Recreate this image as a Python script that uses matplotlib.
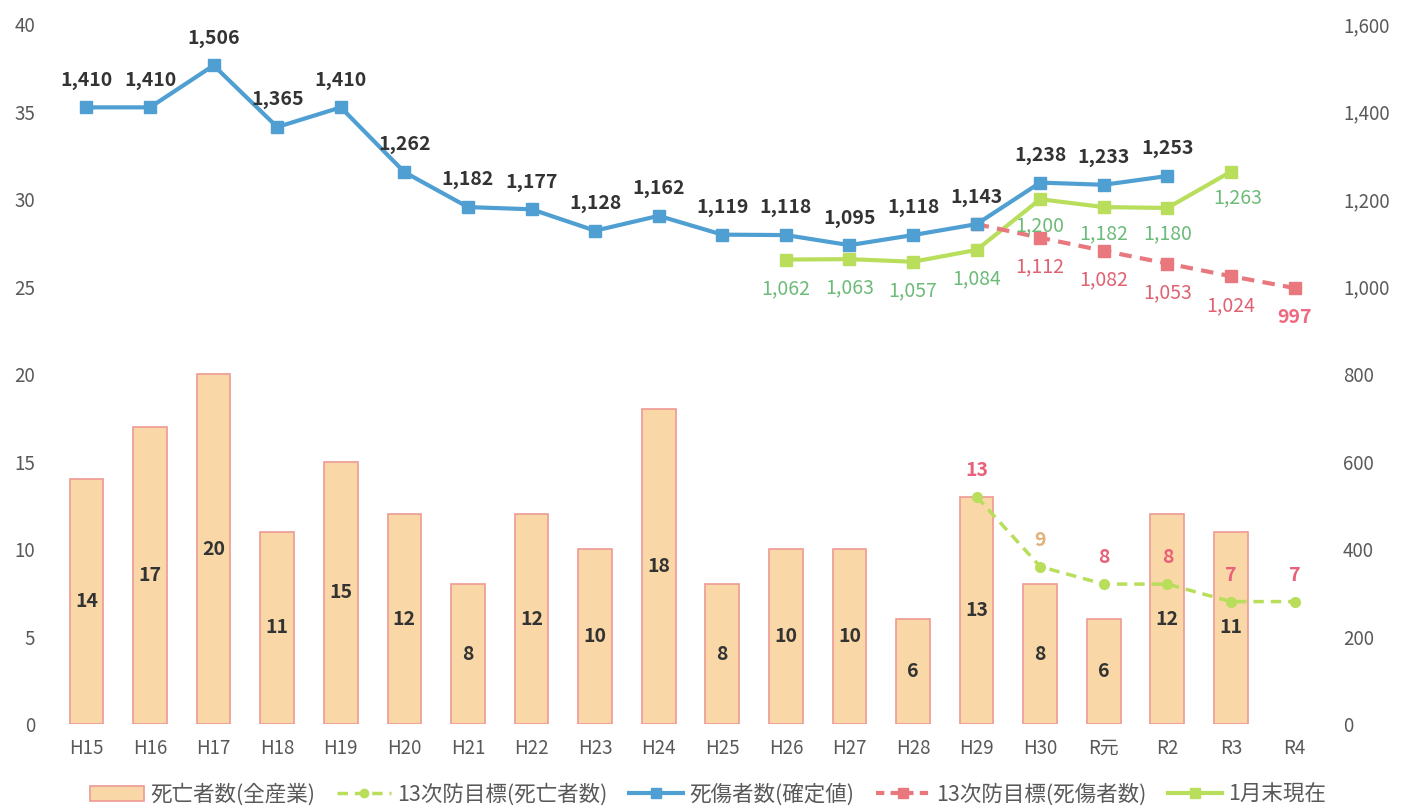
import matplotlib
matplotlib.use("Agg")
import matplotlib.pyplot as plt
from matplotlib.lines import Line2D
from matplotlib.patches import Patch

plt.rcParams['font.family'] = ['Noto Sans CJK JP', 'DejaVu Sans']

categories = ["H15", "H16", "H17", "H18", "H19", "H20", "H21", "H22", "H23", "H24",
              "H25", "H26", "H27", "H28", "H29", "H30", "R元", "R2", "R3", "R4"]
deaths = [14, 17, 20, 11, 15, 12, 8, 12, 10, 18, 8, 10, 10, 6, 13, 8, 6, 12, 11, None]
target_deaths_idx = [14, 15, 16, 17, 18, 19]
target_deaths = [13, 9, 8, 8, 7, 7]
casualties_idx = list(range(18))
casualties = [1410, 1410, 1506, 1365, 1410, 1262, 1182, 1177, 1128, 1162,
              1119, 1118, 1095, 1118, 1143, 1238, 1233, 1253]
target_cas_idx = [14, 15, 16, 17, 18, 19]
target_cas = [1143, 1112, 1082, 1053, 1024, 997]
jan_idx = [11, 12, 13, 14, 15, 16, 17, 18]
jan = [1062, 1063, 1057, 1084, 1200, 1182, 1180, 1263]

BLUE = "#4F9FD2"
LGREEN = "#B8DE5C"
RED = "#E8787E"
BAR_FILL = "#F9D7A6"
BAR_EDGE = "#EE9A94"
GREY = "#595959"
FS = 14

fig = plt.figure(figsize=(14.02, 8.09), dpi=100)
ax = fig.add_axes([0.039, 0.105, 0.907, 0.865])
ax2 = ax.twinx()

x = list(range(len(categories)))
bx = [i for i, v in enumerate(deaths) if v is not None]
bv = [v for v in deaths if v is not None]
ax.bar(bx, bv, width=0.53, color=BAR_FILL, edgecolor=BAR_EDGE, linewidth=1.2, zorder=2)
for i, v in zip(bx, bv):
    ax.text(i, v / 2, str(v), ha='center', va='center', fontsize=FS,
            fontweight='bold', color="#333333", zorder=5)

ax.plot(target_deaths_idx, target_deaths, color=LGREEN, linestyle=(0, (3, 2)),
        linewidth=2.5, marker='o', markersize=7, zorder=4)
lbl_cols = ["#E8607A", "#E2B07A", "#E8607A", "#E8607A", "#E8607A", "#E8607A"]
for i, v, c in zip(target_deaths_idx, target_deaths, lbl_cols):
    ax.text(i, v + 1.5, str(v), ha='center', va='center', fontsize=FS,
            fontweight='bold', color=c, zorder=5)

ax.set_xlim(-0.5, len(categories) - 0.5)
ax.set_ylim(0, 40)
ax.set_yticks(range(0, 41, 5))
ax2.set_ylim(0, 1600)
ax2.set_yticks(range(0, 1601, 200))
ax2.set_yticklabels([f"{v:,}" for v in range(0, 1601, 200)])

ax2.plot(casualties_idx, casualties, color=BLUE, linewidth=3, marker='s',
         markersize=8, zorder=6)
ax2.plot(target_cas_idx, target_cas, color=RED, linewidth=3, linestyle=(0, (3, 2)),
         marker='s', markersize=8, zorder=5)
ax2.plot(jan_idx, jan, color=LGREEN, linewidth=3, marker='s', markersize=8, zorder=4)

for i, v in zip(casualties_idx, casualties):
    ax2.text(i, v + 62, f"{v:,}", ha='center', va='center', fontsize=FS,
             fontweight='bold', color="#333333", zorder=7)
for i, v in zip(target_cas_idx[1:], target_cas[1:]):
    ax2.text(i, v - 67, f"{v:,}", ha='center', va='center', fontsize=FS,
             color="#E06272" if v != 997 else "#EE6A80",
             fontweight='normal' if v != 997 else 'bold', zorder=7)
for i, v in zip(jan_idx, jan):
    xx = i + (0.1 if i == 18 else 0)
    dy = -66 if i < 15 else -60
    ax2.text(xx, v + dy, f"{v:,}", ha='center', va='center', fontsize=FS,
             color="#6DBB78", zorder=7)

ax.set_xticks(x)
ax.set_xticklabels(categories)
for a in (ax, ax2):
    for s in a.spines.values():
        s.set_visible(False)
    a.tick_params(length=0, colors=GREY, labelsize=13.5)
ax.tick_params(axis='y', pad=14)
ax2.tick_params(axis='y', pad=12)
ax.tick_params(axis='x', pad=10)

handles = [
    Patch(facecolor=BAR_FILL, edgecolor=BAR_EDGE, linewidth=1.2),
    Line2D([], [], color=LGREEN, linestyle=(0, (3, 2)), linewidth=2.5, marker='o', markersize=6),
    Line2D([], [], color=BLUE, linewidth=3, marker='s', markersize=7),
    Line2D([], [], color=RED, linewidth=3, linestyle=(0, (2, 1.5)), marker='s', markersize=7),
    Line2D([], [], color=LGREEN, linewidth=3, marker='s', markersize=7),
]
labels = ["死亡者数(全産業)", "13次防目標(死亡者数)", "死傷者数(確定値)",
          "13次防目標(死傷者数)", "1月末現在"]
fig.legend(handles, labels, loc='center', bbox_to_anchor=(0.505, 0.018), ncol=5,
           frameon=False, fontsize=15.5, labelcolor=GREY, handlelength=2.5,
           columnspacing=1.0, handletextpad=0.3)

fig.savefig("out.png", dpi=100)
